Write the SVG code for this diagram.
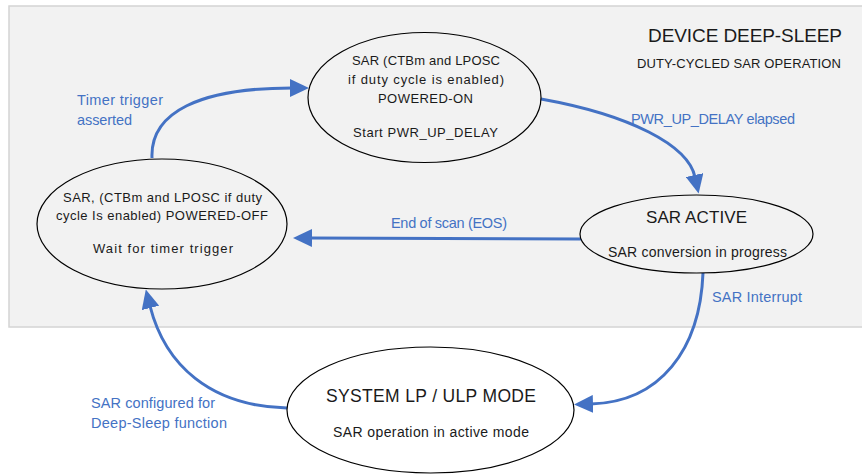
<svg xmlns="http://www.w3.org/2000/svg" width="862" height="476" viewBox="0 0 862 476">
<style>
text { font-family: "Liberation Sans", Arial, sans-serif; fill: #1a1a1a; }
.st { stroke: #000; stroke-width: 1.2; fill: none; }
.lbl { fill: #4472c4; font-size: 14.5px; }
.conn { stroke: #4472c4; stroke-width: 3; fill: none; marker-end: url(#ah); }
.mid { text-anchor: middle; }
</style>
<defs>
<marker id="ah" markerUnits="userSpaceOnUse" markerWidth="20" markerHeight="18" refX="2" refY="9" orient="auto">
<path d="M0,0 L19,9 L0,18 Z" fill="#4472c4"/>
</marker>
</defs>
<rect x="9" y="6" width="870" height="321" fill="#f2f2f2" stroke="#d4d4d4" stroke-width="1.5"/>
<g id="title">
<text x="842" y="42" font-size="19" text-anchor="end" textLength="194" lengthAdjust="spacing">DEVICE DEEP-SLEEP</text>
<text x="841" y="68" font-size="13" text-anchor="end" textLength="204" lengthAdjust="spacing">DUTY-CYCLED SAR OPERATION</text>
</g>
<g id="connectors">
<path class="conn" d="M152,158 C150,112 200,88 292,88"/>
<path class="conn" d="M541,99 C630,115 688,145 695,177"/>
<path class="conn" d="M581,239 L310,238"/>
<path class="conn" d="M703,273 C700,350 660,402 591,404"/>
<path class="conn" d="M287,408 C210,406 165,365 150,306"/>
<text class="lbl" x="77" y="105" textLength="86" lengthAdjust="spacing">Timer trigger</text>
<text class="lbl" x="77" y="125" textLength="55" lengthAdjust="spacing">asserted</text>
<text class="lbl" x="631" y="124" textLength="164" lengthAdjust="spacing">PWR_UP_DELAY elapsed</text>
<text class="lbl" x="391" y="228" textLength="116" lengthAdjust="spacing">End of scan (EOS)</text>
<text class="lbl" x="712" y="302" textLength="90" lengthAdjust="spacing">SAR Interrupt</text>
<text class="lbl" x="91" y="408" textLength="124" lengthAdjust="spacing">SAR configured for</text>
<text class="lbl" x="91" y="428" textLength="136" lengthAdjust="spacing">Deep-Sleep function</text>
</g>
<g id="powered-on">
<ellipse class="st" cx="424.5" cy="97.5" rx="116.5" ry="65"/>
<text class="mid" x="426" y="65" font-size="13" textLength="148" lengthAdjust="spacing">SAR (CTBm and LPOSC</text>
<text class="mid" x="426" y="84" font-size="13" textLength="156" lengthAdjust="spacing">if duty cycle is enabled)</text>
<text class="mid" x="425.5" y="103" font-size="13" textLength="95" lengthAdjust="spacing">POWERED-ON</text>
<text class="mid" x="425.5" y="137" font-size="13" textLength="145" lengthAdjust="spacing">Start PWR_UP_DELAY</text>
</g>
<g id="powered-off">
<ellipse class="st" cx="162" cy="224" rx="125" ry="65"/>
<text class="mid" x="162.5" y="202" font-size="13" textLength="199" lengthAdjust="spacing">SAR, (CTBm and LPOSC if duty</text>
<text class="mid" x="162" y="220" font-size="13" textLength="212" lengthAdjust="spacing">cycle Is enabled) POWERED-OFF</text>
<text class="mid" x="163" y="253" font-size="13" textLength="140" lengthAdjust="spacing">Wait for timer trigger</text>
</g>
<g id="sar-active">
<ellipse class="st" cx="696.5" cy="234" rx="116.5" ry="39"/>
<text class="mid" x="696.5" y="223" font-size="17" textLength="101" lengthAdjust="spacing">SAR ACTIVE</text>
<text class="mid" x="697.5" y="257" font-size="14" textLength="179" lengthAdjust="spacing">SAR conversion in progress</text>
</g>
<g id="system-lp">
<ellipse class="st" cx="430.5" cy="410" rx="143.5" ry="63"/>
<text class="mid" x="431" y="402" font-size="17.5" textLength="210" lengthAdjust="spacing">SYSTEM LP / ULP MODE</text>
<text class="mid" x="431" y="437" font-size="14" textLength="196" lengthAdjust="spacing">SAR operation in active mode</text>
</g>
</svg>
